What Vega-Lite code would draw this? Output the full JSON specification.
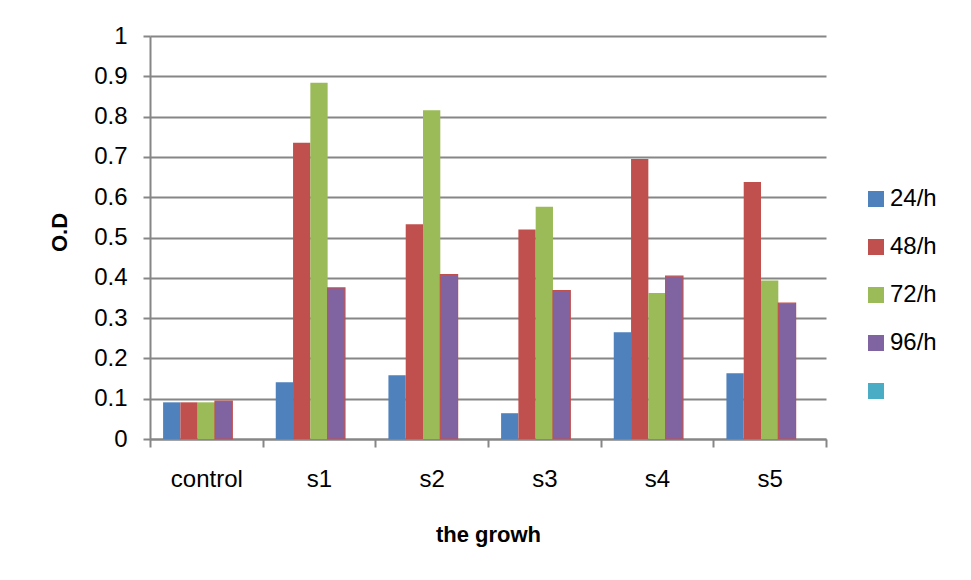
{
  "$schema": "https://vega.github.io/schema/vega-lite/v6.json",
  "width": 676,
  "height": 403,
  "autosize": "none",
  "padding": {"left": 150, "top": 36, "right": 145, "bottom": 141},
  "background": "white",
  "config": {
    "view": {"stroke": null},
    "font": "Liberation Sans"
  },
  "data": {
    "values": [
      {"group": "control", "series": "24/h", "od": 0.091},
      {"group": "control", "series": "48/h", "od": 0.091},
      {"group": "control", "series": "72/h", "od": 0.091},
      {"group": "control", "series": "96/h", "od": 0.094},
      {"group": "s1", "series": "24/h", "od": 0.141},
      {"group": "s1", "series": "48/h", "od": 0.735},
      {"group": "s1", "series": "72/h", "od": 0.884},
      {"group": "s1", "series": "96/h", "od": 0.375},
      {"group": "s2", "series": "24/h", "od": 0.158},
      {"group": "s2", "series": "48/h", "od": 0.533},
      {"group": "s2", "series": "72/h", "od": 0.816},
      {"group": "s2", "series": "96/h", "od": 0.408},
      {"group": "s3", "series": "24/h", "od": 0.064},
      {"group": "s3", "series": "48/h", "od": 0.52},
      {"group": "s3", "series": "72/h", "od": 0.576},
      {"group": "s3", "series": "96/h", "od": 0.368},
      {"group": "s4", "series": "24/h", "od": 0.265},
      {"group": "s4", "series": "48/h", "od": 0.695},
      {"group": "s4", "series": "72/h", "od": 0.362},
      {"group": "s4", "series": "96/h", "od": 0.404},
      {"group": "s5", "series": "24/h", "od": 0.163},
      {"group": "s5", "series": "48/h", "od": 0.638},
      {"group": "s5", "series": "72/h", "od": 0.393},
      {"group": "s5", "series": "96/h", "od": 0.337}
    ]
  },
  "mark": {"type": "bar", "strokeWidth": 1.2},
  "encoding": {
    "x": {
      "field": "group",
      "type": "nominal",
      "sort": ["control", "s1", "s2", "s3", "s4", "s5"],
      "scale": {"paddingInner": 0, "paddingOuter": 0},
      "axis": {
        "title": "the growh",
        "titleFontSize": 22,
        "titleFontWeight": "bold",
        "titleColor": "black",
        "titleBaseline": "alphabetic",
        "titleY": 102,
        "labelAngle": 0,
        "labelFontSize": 24,
        "labelColor": "black",
        "labelPadding": 20,
        "tickBand": "extent",
        "tickSize": 8,
        "tickWidth": 2,
        "tickColor": "#868686",
        "domainColor": "#868686",
        "domainWidth": 2,
        "grid": false
      }
    },
    "xOffset": {
      "field": "series",
      "type": "nominal",
      "scale": {"domain": ["24/h", "48/h", "72/h", "96/h", "Series5"], "paddingInner": 0, "paddingOuter": 0.757}
    },
    "y": {
      "field": "od",
      "type": "quantitative",
      "scale": {"domain": [0, 1], "nice": false},
      "axis": {
        "title": "O.D",
        "titleFontSize": 22,
        "titleFontWeight": "bold",
        "titleColor": "black",
        "titlePadding": 22,
        "titleY": 196,
        "values": [0, 0.1, 0.2, 0.3, 0.4, 0.5, 0.6, 0.7, 0.8, 0.9, 1],
        "format": ".1~f",
        "labelFontSize": 24,
        "labelColor": "black",
        "labelPadding": 16,
        "tickSize": 7,
        "tickWidth": 2,
        "tickColor": "#868686",
        "domainColor": "#868686",
        "domainWidth": 2,
        "gridColor": "#868686",
        "gridWidth": 2
      }
    },
    "color": {
      "field": "series",
      "type": "nominal",
      "scale": {
        "domain": ["24/h", "48/h", "72/h", "96/h", "Series5"],
        "range": ["#4F81BD", "#C0504D", "#9BBB59", "#8064A2", "#4BACC6"]
      },
      "legend": {
        "title": null,
        "orient": "none",
        "legendX": 714,
        "legendY": 151,
        "padding": 0,
        "symbolType": "square",
        "symbolSize": 256,
        "labelFontSize": 24,
        "labelColor": "black",
        "labelOffset": 2,
        "rowPadding": 24,
        "labelExpr": "datum.label == 'Series5' ? '' : datum.label",
        "encode": {
          "symbols": {
            "update": {
              "stroke": [
                {"test": "datum.value === '96/h'", "value": "#C0504D"},
                {"value": "transparent"}
              ],
              "strokeWidth": {"value": 1.5}
            }
          }
        }
      }
    },
    "stroke": {
      "condition": {"test": "datum.series == '96/h'", "value": "#C0504D"},
      "value": "transparent"
    }
  }
}
